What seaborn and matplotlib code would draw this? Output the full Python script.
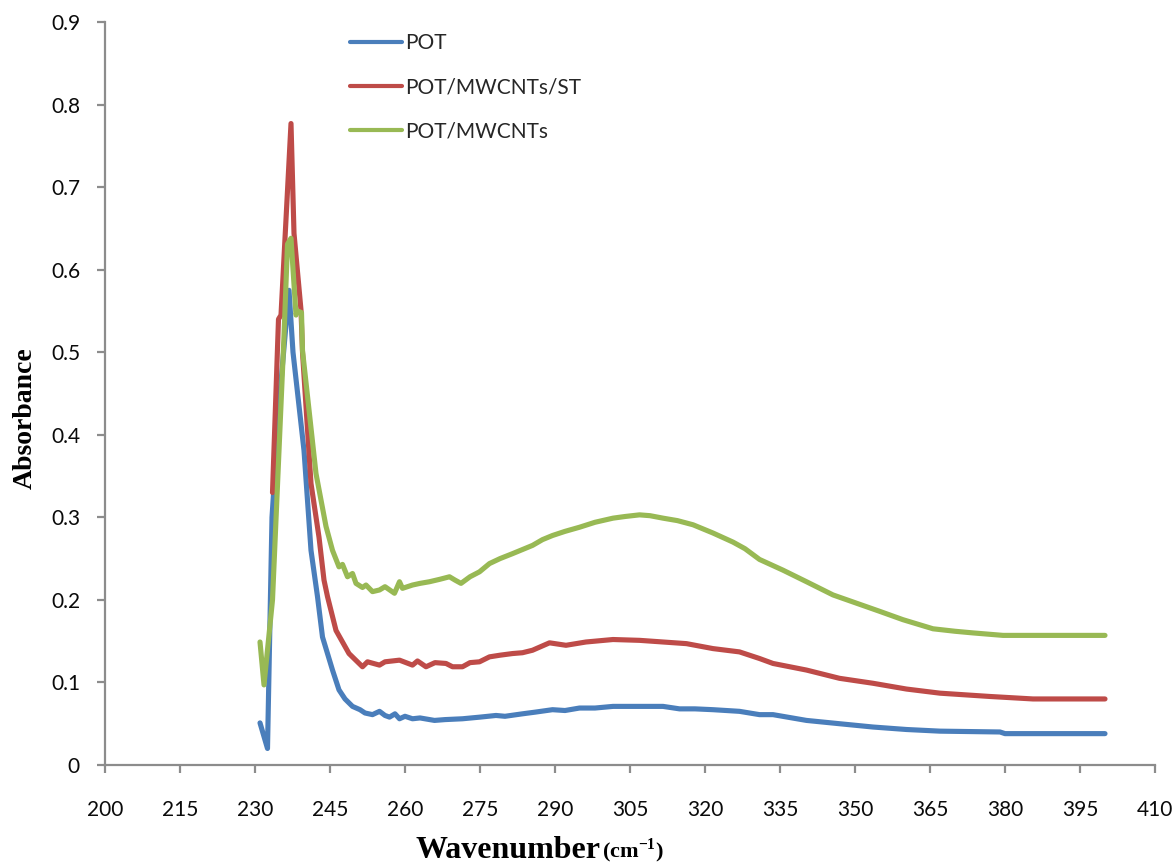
import numpy as np
import pandas as pd
import seaborn as sns
import matplotlib
matplotlib.use("Agg")
import matplotlib.pyplot as plt

# ---- spectra (wavenumber, absorbance) ----
pot_x = [231, 232.5, 233.4, 235, 236.8, 237.6, 239.8, 241.2, 242.5, 243.5, 245.5, 246.8,
         248, 249.5, 251, 252, 253.5, 254.9, 256, 256.9, 258, 258.9, 260, 261.5, 263,
         265.9, 268, 271.5, 275, 278.2, 280, 283.5, 286, 289.5, 292, 294.9, 298, 301.6,
         306, 311.6, 314.9, 318, 321.6, 326.9, 330.9, 333.6, 340.3, 346.9, 353.6, 360.3,
         367, 379, 380, 400]
pot_y = [0.051, 0.020, 0.300, 0.450, 0.575, 0.500, 0.381, 0.260, 0.204, 0.155, 0.115, 0.091,
         0.080, 0.071, 0.067, 0.063, 0.061, 0.065, 0.060, 0.058, 0.062, 0.056, 0.059, 0.056, 0.057,
         0.054, 0.055, 0.056, 0.058, 0.060, 0.059, 0.062, 0.064, 0.067, 0.066, 0.069, 0.069, 0.071,
         0.071, 0.071, 0.068, 0.068, 0.067, 0.065, 0.061, 0.061, 0.054, 0.050, 0.046, 0.043,
         0.041, 0.040, 0.038, 0.038]

st_x = [233.5, 234.7, 235.2, 237.2, 237.8, 239.2, 239.5, 241.2, 242.8, 243.8, 244.5, 246.2,
        248.8, 251.5, 252.5, 254.9, 256, 258.9, 261.5, 262.5, 264.2, 266, 268.2, 269.5, 271.5,
        273, 274.9, 276.9, 279, 281.5, 283.5, 285.5, 288.9, 292.2, 296.2, 301.6, 306.9, 311.6,
        316.3, 321.6, 326.9, 330.9, 333.6, 340.3, 346.9, 353.6, 360.3, 367, 377, 385.6, 400]
st_y = [0.330, 0.540, 0.545, 0.777, 0.644, 0.551, 0.500, 0.341, 0.276, 0.224, 0.204, 0.163,
        0.135, 0.119, 0.125, 0.121, 0.125, 0.127, 0.121, 0.126, 0.119, 0.124, 0.123, 0.119, 0.119,
        0.124, 0.125, 0.131, 0.133, 0.135, 0.136, 0.139, 0.148, 0.145, 0.149, 0.152, 0.151, 0.149,
        0.147, 0.141, 0.137, 0.129, 0.123, 0.115, 0.105, 0.099, 0.092, 0.087, 0.083, 0.080, 0.080]

mw_x = [231, 231.8, 233.5, 235.8, 236.5, 237.2, 238.2, 238.5, 239.3, 239.5, 242.2, 244.2,
        245.5, 246.8, 247.5, 248.5, 249.5, 250.2, 251.5, 252.2, 253.5, 254.9, 256, 257.9, 258.9,
        259.5, 261.5, 263, 264.9, 267, 268.9, 270, 271.2, 273, 274.9, 276.9, 279, 281.5, 283.5,
        285.5, 287.5, 289.5, 292, 294.9, 298, 301.6, 304, 306.9, 309, 311.6, 314.5, 317.6,
        321.6, 325.6, 328, 330.9, 335.6, 340.3, 345.6, 350.3, 355, 359.6, 365.6, 370, 373.6,
        379.6, 400]
mw_y = [0.149, 0.097, 0.200, 0.520, 0.631, 0.638, 0.545, 0.550, 0.548, 0.502, 0.353, 0.289,
        0.260, 0.240, 0.243, 0.228, 0.232, 0.220, 0.215, 0.218, 0.210, 0.212, 0.216, 0.208, 0.222,
        0.214, 0.218, 0.220, 0.222, 0.225, 0.228, 0.224, 0.220, 0.228, 0.234, 0.244, 0.250, 0.256,
        0.261, 0.266, 0.273, 0.278, 0.283, 0.288, 0.294, 0.299, 0.301, 0.303, 0.302, 0.299, 0.296,
        0.291, 0.281, 0.270, 0.262, 0.249, 0.236, 0.222, 0.206, 0.196, 0.186, 0.176, 0.165, 0.162,
        0.160, 0.157, 0.157]

series_names = ["POT", "POT/MWCNTs/ST", "POT/MWCNTs"]
series_colors = ["#4A7EBB", "#BE4B48", "#98B954"]

x_ticks = list(range(200, 411, 15))
y_ticks = [0, 0.1, 0.2, 0.3, 0.4, 0.5, 0.6, 0.7, 0.8, 0.9]
y_tick_labels = ["0", "0.1", "0.2", "0.3", "0.4", "0.5", "0.6", "0.7", "0.8", "0.9"]

df = pd.concat([
    pd.DataFrame({"wn": pot_x, "abs": pot_y, "sample": series_names[0]}),
    pd.DataFrame({"wn": st_x, "abs": st_y, "sample": series_names[1]}),
    pd.DataFrame({"wn": mw_x, "abs": mw_y, "sample": series_names[2]}),
], ignore_index=True)

sns.set_style("white")
plt.rcParams["font.family"] = ["Lato", "DejaVu Sans"]
plt.rcParams["mathtext.fontset"] = "custom"
plt.rcParams["mathtext.rm"] = "Liberation Serif:bold"
plt.rcParams["mathtext.bf"] = "Liberation Serif:bold"

W, H = 1175, 865
fig = plt.figure(figsize=(W / 100, H / 100), dpi=100)
ax = fig.add_axes([105 / W, 1 - 765 / H, 1050 / W, 743 / H])

sns.lineplot(data=df, x="wn", y="abs", hue="sample", hue_order=series_names,
             palette=series_colors, estimator=None, sort=False, linewidth=3.7,
             ax=ax)
for ln in ax.get_lines():
    ln.set_solid_joinstyle("round")
    ln.set_solid_capstyle("round")

ax.set_xlim(200, 410)
ax.set_ylim(0, 0.9)
ax.set_xticks(x_ticks)
ax.set_xticklabels([str(t) for t in x_ticks])
ax.set_yticks(y_ticks)
ax.set_yticklabels(y_tick_labels)
ax.set_xlabel("")
ax.set_ylabel("")

for side in ("top", "right"):
    ax.spines[side].set_visible(False)
for side in ("left", "bottom"):
    ax.spines[side].set_color("#8C8C8C")
    ax.spines[side].set_linewidth(1.6)
ax.tick_params(axis="both", direction="out", color="#8C8C8C", width=1.6, length=6,
               labelsize=15, labelcolor="#0A0A0A")
ax.tick_params(axis="x", pad=19)
ax.tick_params(axis="y", pad=12)
ax.tick_params(axis="both", which="both", bottom=True, left=True)

leg = ax.legend(loc="upper left", bbox_to_anchor=((350 - 105) / 1050, 0.985),
                frameon=False, fontsize=15, handlelength=2.5, handletextpad=0.15,
                labelspacing=1.15, borderpad=0, borderaxespad=0)
for h in leg.get_lines():
    h.set_linewidth(3)

fig.text(600 / W, 1 - 850 / H, "Wavenumber", ha="right", va="center",
         fontfamily="Liberation Serif", fontweight="bold", fontsize=23, color="black")
fig.text(602 / W, 1 - 851 / H, r"(cm$^{-1}$)", ha="left", va="center",
         fontfamily="Liberation Serif", fontweight="bold", fontsize=16, color="black")
fig.text(25 / W, 1 - 418 / H, "Absorbance", ha="center", va="center", rotation=90,
         fontfamily="Liberation Serif", fontweight="bold", fontsize=20, color="black")

fig.savefig("out.png", dpi=100, facecolor="white")
